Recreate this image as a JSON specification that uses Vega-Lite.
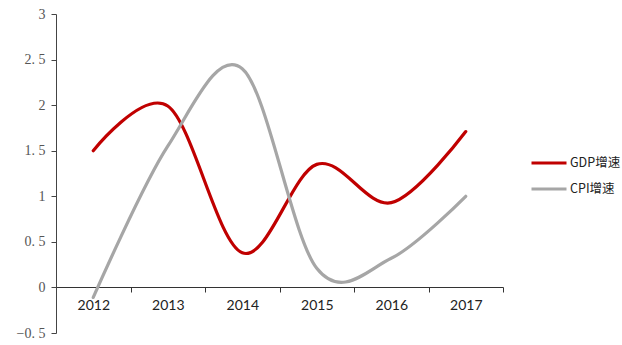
{
  "$schema": "https://vega.github.io/schema/vega-lite/v6.json",
  "width": 447,
  "height": 319,
  "autosize": "none",
  "padding": {"left": 56, "top": 14, "right": 119, "bottom": 12},
  "background": "white",
  "config": {"view": {"stroke": null}},
  "data": {
    "values": [
      {"year": "2012", "series": "GDP增速", "value": 1.5},
      {"year": "2013", "series": "GDP增速", "value": 1.99},
      {"year": "2014", "series": "GDP增速", "value": 0.38},
      {"year": "2015", "series": "GDP增速", "value": 1.35},
      {"year": "2016", "series": "GDP增速", "value": 0.93},
      {"year": "2017", "series": "GDP增速", "value": 1.71},
      {"year": "2012", "series": "CPI增速", "value": -0.11},
      {"year": "2013", "series": "CPI增速", "value": 1.55},
      {"year": "2014", "series": "CPI增速", "value": 2.4},
      {"year": "2015", "series": "CPI增速", "value": 0.21},
      {"year": "2016", "series": "CPI增速", "value": 0.32},
      {"year": "2017", "series": "CPI增速", "value": 1.0}
    ]
  },
  "mark": {"type": "line", "interpolate": "cardinal", "strokeWidth": 3.2, "strokeCap": "round"},
  "encoding": {
    "x": {
      "field": "year",
      "type": "ordinal",
      "scale": {"type": "band", "paddingInner": 0, "paddingOuter": 0},
      "axis": {
        "title": null,
        "offset": -46,
        "tickBand": "extent",
        "labelAngle": 0,
        "labelFont": "Lato",
        "labelFontSize": 14,
        "labelColor": "#222222",
        "labelPadding": 6,
        "domainColor": "#333333",
        "tickColor": "#333333",
        "tickSize": 5,
        "domainWidth": 1
      }
    },
    "y": {
      "field": "value",
      "type": "quantitative",
      "scale": {"domain": [-0.5, 3], "nice": false, "zero": false},
      "axis": {
        "title": null,
        "values": [-0.5, 0, 0.5, 1, 1.5, 2, 2.5, 3],
        "grid": false,
        "labelExpr": "replace(format(datum.value, '~g'), '.', '. ')",
        "labelFont": "Liberation Serif",
        "labelFontSize": 14,
        "labelColor": "#555555",
        "labelPadding": 6,
        "domainColor": "#444444",
        "tickColor": "#444444",
        "tickSize": 5
      }
    },
    "color": {
      "field": "series",
      "type": "nominal",
      "scale": {"domain": ["GDP增速", "CPI增速"], "range": ["#C00000", "#A6A6A6"]},
      "legend": {
        "title": null,
        "orient": "none",
        "legendX": 474,
        "legendY": 130,
        "symbolType": "stroke",
        "symbolSize": 1225,
        "symbolStrokeWidth": 3,
        "labelFont": "Noto Sans CJK SC",
        "labelFontSize": 12.5,
        "labelColor": "#222222",
        "labelOffset": 2,
        "rowPadding": -2
      }
    }
  }
}
